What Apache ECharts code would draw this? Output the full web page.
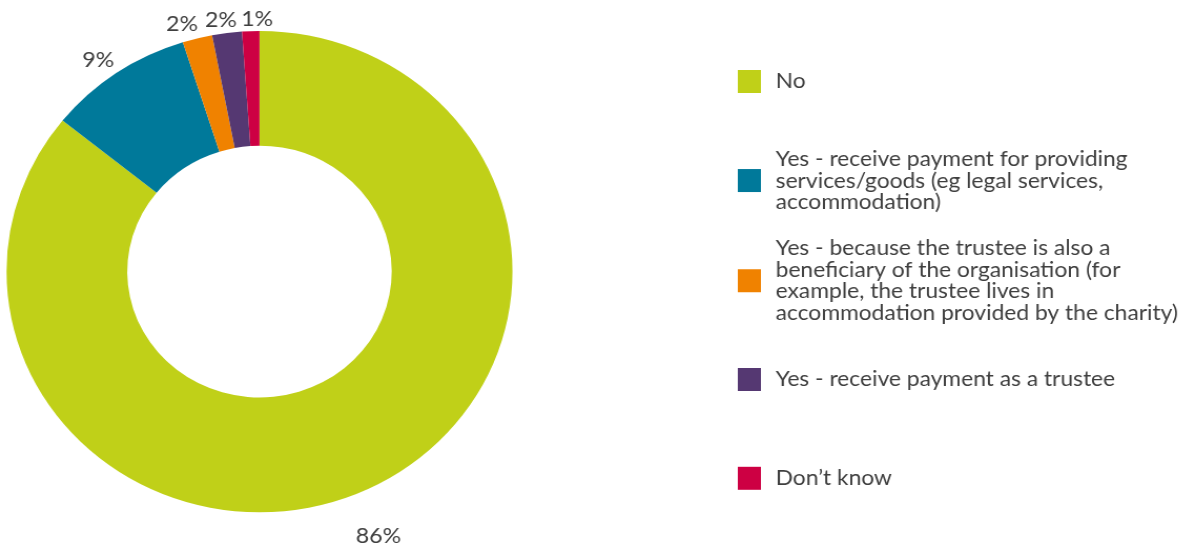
<!DOCTYPE html>
<html><head><meta charset="utf-8">
<script src="https://cdn.jsdelivr.net/npm/echarts@6/dist/echarts.min.js"></script>
<style>
html,body{margin:0;padding:0;background:#fff;overflow:hidden;}
#wrap{width:1181px;height:548px;overflow:hidden;}
#chart{width:1124px;height:548px;transform:scaleX(1.051);transform-origin:0 0;}
</style></head><body><div id="wrap"><div id="chart"></div></div>
<script>
// ---- data ----
const categories = [
  'No',
  'Yes - receive payment for providing\nservices/goods (eg legal services,\naccommodation)',
  'Yes - because the trustee is also a\nbeneficiary of the organisation (for\nexample, the trustee lives in\naccommodation provided by the charity)',
  'Yes - receive payment as a trustee',
  'Don\u2019t know'
];
const values = [85.8, 9.3, 1.9, 1.9, 1.1];

// ---- styles / layout ----
const colors = ['#C0D018', '#00799A', '#F08200', '#553872', '#CD0043'];
const FONT = 'Lato';
const TEXT = '#3f3f3f';
const LINE_H = 21.5;
const ICON_W = 22, ICON_H = 23;
const legendCenters = [81.5, 180.3, 280.5, 379.5, 478.3];
const labelNudge = [[-21, 29], [9, 3], [5.5, 5], [12, 6.5], [22, 8]];

const chart = echarts.init(document.getElementById('chart'), null, {renderer: 'canvas'});

const legends = categories.map((name, i) => {
  const lines = name.split('\n').length;
  const h = Math.max(ICON_H, lines * LINE_H);
  return {
    data: [name],
    orient: 'vertical',
    left: 702,
    top: legendCenters[i] - h / 2,
    padding: 0,
    itemWidth: ICON_W,
    itemHeight: ICON_H,
    icon: 'rect',
    selectedMode: false,
    textStyle: {
      fontFamily: FONT, fontSize: 21.7, color: TEXT,
      lineHeight: LINE_H, padding: [0, 0, 0, 9]
    }
  };
});

chart.setOption({
  animation: false,
  color: colors,
  legend: legends,
  series: [{
    type: 'pie',
    center: [246.9, 271.6],
    radius: [125.8, 240.7],
    startAngle: 90,
    clockwise: true,
    avoidLabelOverlap: false,
    data: categories.map((n, i) => ({name: n, value: values[i]})),
    itemStyle: {borderWidth: 0},
    emphasis: {disabled: true},
    label: {
      show: true,
      position: 'outside',
      distanceToLabelLine: 0,
      fontFamily: FONT, fontSize: 22, color: TEXT,
      formatter: p => Math.round(p.value) + '%'
    },
    labelLine: {show: false, length: 20, length2: 0},
    labelLayout: p => ({dx: labelNudge[p.dataIndex][0], dy: labelNudge[p.dataIndex][1], hideOverlap: false})
  }]
});
</script></body></html>
